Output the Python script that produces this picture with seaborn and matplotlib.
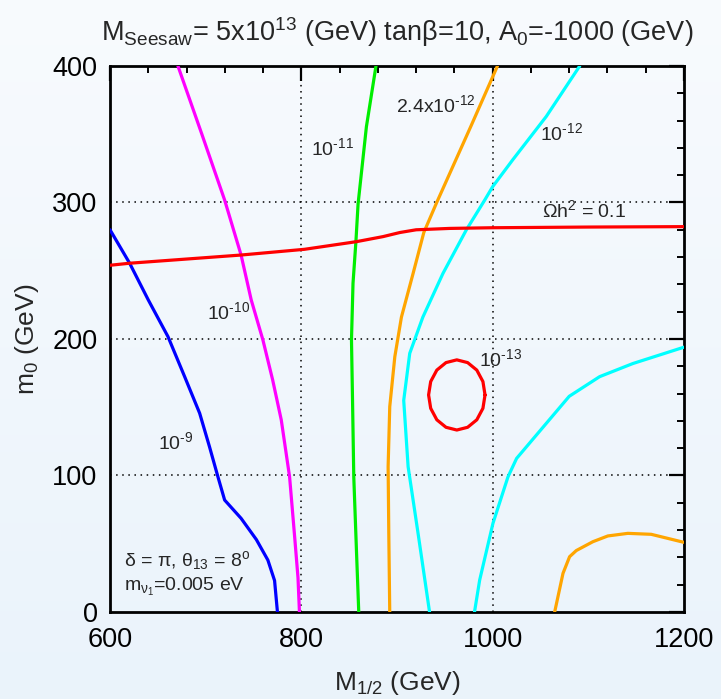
import numpy as np
import pandas as pd
import matplotlib
matplotlib.use("Agg")
import matplotlib.pyplot as plt
from matplotlib.ticker import MultipleLocator
import seaborn as sns

# ---------------- data ----------------
blue_x = [600, 620.5, 640, 660.6, 678, 693.7, 704, 712.8, 719.8, 737, 753, 765, 772, 775]
blue_y = [280, 255.5, 228.6, 201.7, 172.4, 145.6, 121, 99, 82, 68.6, 53, 38, 23, 0]

magenta_x = [671, 696, 719.8, 737, 747.6, 759.8, 770, 779, 787.7, 793, 796.5, 798]
magenta_y = [400, 350, 301.8, 261.5, 228.6, 199.3, 170, 140.7, 99, 55, 25, 0]

green_x = [878, 868, 859.3, 857, 854, 852.4, 853.5, 854.8, 857.6, 860]
green_y = [400, 355.5, 299, 271, 240.8, 199.3, 155, 99, 45, 0]

orange_x = [1005, 977, 941.5, 928, 916.8, 904.6, 897.7, 892.4, 890.7, 891.4, 892.4]
orange_y = [400, 355.5, 300, 278, 248, 216, 187, 150.4, 106.4, 57.6, 0]

orange2_x = [1064.8, 1073.5, 1080.4, 1087.4, 1104.8, 1120.4, 1141.3, 1165.7, 1200]
orange2_y = [0, 28.3, 40.5, 45, 51.5, 55.7, 57.6, 56.9, 51]

cyan_x = [1091, 1056, 1021, 1000, 991.7, 972.5, 948, 927, 913.3, 907, 911.6, 922, 934]
cyan_y = [400, 363, 331.3, 311.6, 301.8, 280, 248, 216, 189.5, 155, 106.4, 57.6, 0]

cyan2_x = [1200, 1146.5, 1111.8, 1080, 1025, 1016, 1000.3, 986.4, 981]
cyan2_y = [194, 182, 172.4, 158, 112.5, 99, 65, 23.4, 0]

omega_x = [600, 620.5, 737, 803.3, 857.6, 885.4, 903, 920, 955, 1000, 1100, 1200]
omega_y = [254, 255.5, 261.5, 265.7, 271.3, 275, 278, 280, 281, 281.5, 282, 282.3]

loop_x = [992, 989.8, 983.4, 973.8, 962.5, 951.2, 941.6, 935.2, 933, 935.2, 941.6,
          951.2, 962.5, 973.8, 983.4, 989.8, 992]
loop_y = [159, 168.8, 177.2, 182.7, 184.7, 182.7, 177.2, 168.8, 159, 149.2, 140.8,
          135.3, 133.3, 135.3, 140.8, 149.2, 159]

x_ticks = [600, 800, 1000, 1200]
y_ticks = [0, 100, 200, 300, 400]

curves = [
    (blue_x, blue_y, "#0000ff"),
    (magenta_x, magenta_y, "#ff00ff"),
    (green_x, green_y, "#00ee00"),
    (orange_x, orange_y, "#ffa500"),
    (orange2_x, orange2_y, "#ffa500"),
    (cyan_x, cyan_y, "#00ffff"),
    (cyan2_x, cyan2_y, "#00ffff"),
    (omega_x, omega_y, "#ff0000"),
    (loop_x, loop_y, "#ff0000"),
]

# ---------------- style ----------------
sns.set_theme(style="white")
plt.rcParams["font.family"] = ["Liberation Sans", "DejaVu Sans"]
plt.rcParams["mathtext.fontset"] = "custom"
plt.rcParams["mathtext.rm"] = "Liberation Sans"
plt.rcParams["mathtext.it"] = "Liberation Sans"
plt.rcParams["mathtext.bf"] = "Liberation Sans"
plt.rcParams["mathtext.sf"] = "Liberation Sans"

fig = plt.figure(figsize=(7.21, 6.99), dpi=100)

# background gradient
bg = fig.add_axes([0, 0, 1, 1], zorder=-10)
top_c = np.array([0.972, 0.984, 0.996])
bot_c = np.array([0.918, 0.953, 0.984])
t = np.linspace(0, 1, 256)[:, None]
grad = top_c[None, :] * (1 - t) + bot_c[None, :] * t
bg.imshow(grad[:, None, :], aspect="auto", extent=[0, 1, 0, 1])
bg.axis("off")

ax = fig.add_axes([0.1526, 0.1245, 0.7961, 0.7811])
ax.set_facecolor("none")

for xs, ys, col in curves:
    df = pd.DataFrame({"x": xs, "y": ys})
    sns.lineplot(data=df, x="x", y="y", sort=False, estimator=None, color=col,
                 linewidth=2.3, ax=ax, zorder=3)
for ln in ax.get_lines():
    ln.set_solid_joinstyle("round")
    ln.set_solid_capstyle("round")

ax.set_xlim(600, 1200)
ax.set_ylim(0, 400)
ax.set_xticks(x_ticks)
ax.set_yticks(y_ticks)
ax.xaxis.set_minor_locator(MultipleLocator(40))
ax.yaxis.set_minor_locator(MultipleLocator(20))

for v in [800, 1000]:
    ax.axvline(v, color="black", linestyle=(0, (1, 3)), linewidth=1.1, zorder=1)
for v in [100, 200, 300]:
    ax.axhline(v, color="black", linestyle=(0, (1, 3)), linewidth=1.1, zorder=1)

ax.tick_params(which="both", direction="in", top=True, right=True, colors="black")
ax.tick_params(which="major", length=11, width=1.6, labelsize=19.5)
ax.tick_params(axis="x", which="major", pad=11)
ax.tick_params(axis="y", which="major", pad=9)
ax.tick_params(which="minor", length=5, width=1.4)
for s in ax.spines.values():
    s.set_linewidth(2.0)
    s.set_color("black")

ax.set_xlabel(r"M$_{1/2}$ (GeV)", fontsize=19, labelpad=11)
ax.set_ylabel(r"m$_0$ (GeV)", fontsize=19, labelpad=8)
ax.set_title(r"M$_{Seesaw}$= 5x10$^{13}$ (GeV) tanβ=10, A$_0$=-1000 (GeV)",
             fontsize=19.5, pad=18)

fs = 14
hy = "\u2010"
ax.text(669, 124.5, "10$^{" + hy + "9}$", fontsize=fs, ha="center", va="center")
ax.text(724, 220, "10$^{" + hy + "10}$", fontsize=fs, ha="center", va="center")
ax.text(832, 340, "10$^{" + hy + "11}$", fontsize=fs, ha="center", va="center")
ax.text(941, 371, "2.4x10$^{" + hy + "12}$", fontsize=fs, ha="center", va="center")
ax.text(1072, 351, "10$^{" + hy + "12}$", fontsize=fs, ha="center", va="center")
ax.text(1008, 185, "10$^{" + hy + "13}$", fontsize=fs, ha="center", va="center")
ax.text(1095, 294.5, r"Ωh$^2$ = 0.1", fontsize=fs, ha="center", va="center")
ax.text(615, 38, r"δ = π, θ$_{13}$ = 8$^{\rm o}$", fontsize=fs, ha="left", va="center")
ax.text(615, 18, r"m$_{\nu_1}$=0.005 eV", fontsize=fs, ha="left", va="center")

fig.savefig("out.png", dpi=100)
